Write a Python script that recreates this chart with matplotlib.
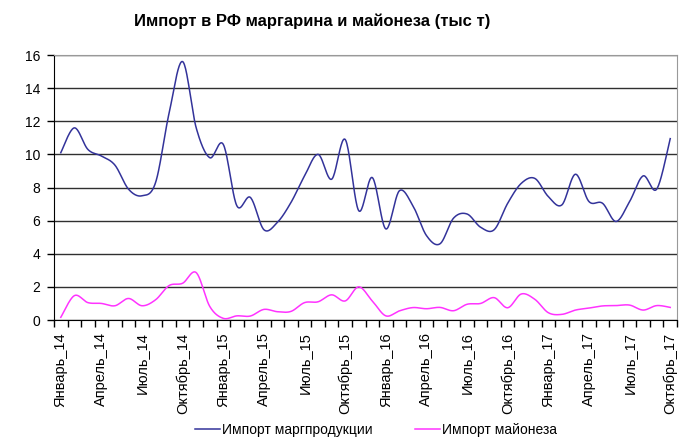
import matplotlib
matplotlib.use('Agg')
import matplotlib.pyplot as plt
from matplotlib import font_manager
import numpy as np

# monthly import, thousand tonnes, Jan 2014 .. Oct 2017
MONTHS = ['Январь', 'Февраль', 'Март', 'Апрель', 'Май', 'Июнь',
          'Июль', 'Август', 'Сентябрь', 'Октябрь', 'Ноябрь', 'Декабрь']
YEARS = ['14', '15', '16', '17']
N_POINTS = 46

margarine = [10.1, 11.6, 10.3, 9.9, 9.35, 7.9, 7.5, 8.3, 12.5, 15.6,
             11.6, 9.8, 10.6, 6.9, 7.4, 5.45, 5.9, 7.1, 8.7, 10.0,
             8.5, 10.9, 6.6, 8.6, 5.5, 7.8, 6.9, 5.1, 4.6, 6.15,
             6.4, 5.6, 5.45, 7.05, 8.25, 8.55, 7.45, 6.95, 8.8, 7.15,
             7.05, 5.95, 7.15, 8.7, 7.9, 10.95]
mayonnaise = [0.16, 1.47, 1.05, 1.0, 0.86, 1.3, 0.86, 1.22, 2.08, 2.22,
              2.86, 0.82, 0.1, 0.25, 0.24, 0.64, 0.5, 0.52, 1.05, 1.1,
              1.52, 1.15, 2.0, 1.15, 0.25, 0.55, 0.75, 0.68, 0.76, 0.56,
              0.95, 1.0, 1.35, 0.74, 1.57, 1.25, 0.44, 0.34, 0.6, 0.72,
              0.85, 0.87, 0.9, 0.6, 0.87, 0.76]

labels = [m + '_' + y for y in YEARS for m in MONTHS][:N_POINTS]

names = {f.name for f in font_manager.fontManager.ttflist}
base_font = 'Liberation Sans' if 'Liberation Sans' in names else 'DejaVu Sans'
plt.rcParams['font.family'] = [base_font, 'DejaVu Sans']


def smooth(y, n=24):
    # excel-like smoothed line: bezier through points, catmull-rom tangents
    y = np.asarray(y, dtype=float)
    x = np.arange(len(y), dtype=float)
    pts = np.column_stack([x, y])
    out = []
    t = np.linspace(0, 1, n)[:, None]
    for i in range(len(pts) - 1):
        p0 = pts[i - 1] if i > 0 else pts[i]
        p1 = pts[i]
        p2 = pts[i + 1]
        p3 = pts[i + 2] if i + 2 < len(pts) else pts[i + 1]
        c1 = p1 + (p2 - p0) / 6
        c2 = p2 - (p3 - p1) / 6
        seg = ((1 - t) ** 3) * p1 + 3 * ((1 - t) ** 2) * t * c1 + 3 * (1 - t) * t ** 2 * c2 + t ** 3 * p2
        out.append(seg if i == 0 else seg[1:])
    out = np.vstack(out)
    return out[:, 0], out[:, 1]


fig = plt.figure(figsize=(7, 4.44), dpi=100)
ax = fig.add_axes([54 / 700, 1 - 320 / 444, 623 / 700, 265 / 444])

xs, ys = smooth(margarine)
ax.plot(xs, ys, color='#33339a', lw=1.1, label='Импорт маргпродукции', zorder=3)
xs, ys = smooth(mayonnaise)
ax.plot(xs, ys, color='#ff33ff', lw=1.1, label='Импорт майонеза', zorder=3)

ax.set_xlim(-0.5, N_POINTS - 0.5)
ax.set_ylim(0, 16)
ax.set_yticks(range(0, 17, 2))
ax.yaxis.grid(True, color='#303030', lw=1.0)
ax.set_axisbelow(True)

major = list(range(0, N_POINTS, 3))
ax.set_xticks(major)
ax.set_xticklabels([labels[i] for i in major], rotation=90, fontsize=10.5)
ax.set_xticks(np.arange(-0.5, N_POINTS, 1), minor=True)
ax.tick_params(axis='x', which='major', length=0, pad=9)
ax.tick_params(axis='x', which='minor', length=5, width=1, direction='out')
ax.tick_params(axis='y', length=5, width=1, direction='out', labelsize=10, pad=5)

for side in ['top', 'right']:
    ax.spines[side].set_color('#999999')
for side in ['left', 'bottom']:
    ax.spines[side].set_color('black')

fig.text(312 / 700, 1 - 21 / 444, 'Импорт в РФ маргарина и майонеза (тыс т)',
         ha='center', va='center', fontsize=12, fontweight='bold')

fig.legend(loc='center', bbox_to_anchor=(376 / 700, 1 - 430 / 444), ncol=2,
           frameon=False, fontsize=10, handlelength=1.75, handletextpad=0.15,
           columnspacing=3.1)

fig.savefig('out.png', dpi=100)
